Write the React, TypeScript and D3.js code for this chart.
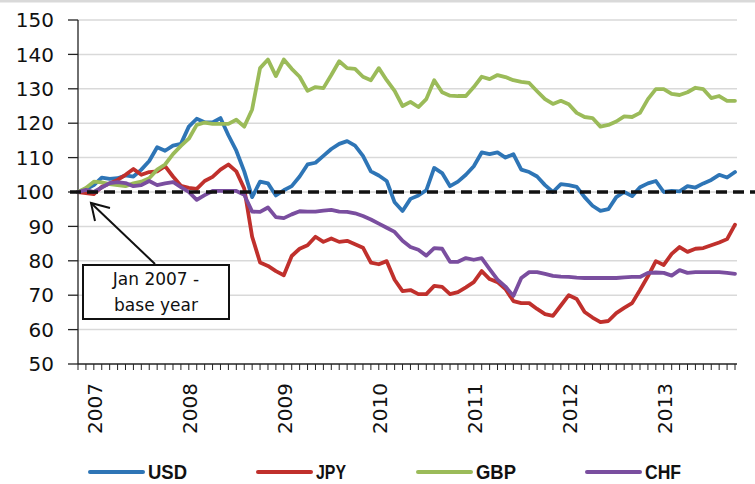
import React from "react";
import * as d3 from "d3";

const yearLabels = ["2007", "2008", "2009", "2010", "2011", "2012", "2013"];
const yTicks = [50, 60, 70, 80, 90, 100, 110, 120, 130, 140, 150];
const seriesNames = ["USD", "JPY", "GBP", "CHF"];
const seriesColors = ["#2E75B6", "#C0302C", "#9BBB59", "#7A4E9F"];

const usd = [100, 100.8, 102, 104.2, 103.8, 104, 104.8, 104.5, 106.5, 109, 113, 112, 113.5, 114, 119, 121.3, 120.3, 120.2, 121.5, 116.5, 112, 106, 98.5, 103, 102.5, 99, 100.5, 101.7, 104.5, 108, 108.5, 110.5, 112.5, 114, 114.8, 113.5, 110.5, 106, 104.8, 103.2, 97, 94.5, 98, 99, 100.5, 107, 105.5, 101.7, 103, 105, 107.5, 111.5, 111, 111.5, 110, 111, 106.5, 105.8, 104.5, 102, 100, 102.3, 102, 101.5, 98.5, 96, 94.5, 95, 98.5, 100, 98.8, 101.4, 102.5, 103.2, 100, 100.3, 100.2, 101.7, 101.3, 102.5, 103.5, 105, 104.2, 105.8];
const jpy = [100, 99.7, 99.4, 101.5, 102.5, 103.5, 105, 106.7, 105, 105.8, 106, 107.5, 104.5, 101.8, 101.2, 100.9, 103.2, 104.4, 106.5, 108, 106, 101, 87, 79.5, 78.5, 77, 75.8, 81.4, 83.5, 84.5, 87, 85.5, 86.5, 85.5, 85.8, 84.8, 83.8, 79.5, 79, 79.9, 74.5, 71.2, 71.5, 70.3, 70.3, 72.7, 72.4, 70.3, 70.9, 72.3, 73.8, 77, 74.7, 73.8, 71.8, 68.3, 67.7, 67.7, 66, 64.5, 64, 67, 70, 68.9, 65.1, 63.5, 62.2, 62.5, 64.8, 66.3, 67.7, 71.5, 75.5, 79.9, 78.8, 82, 84, 82.6, 83.5, 83.7, 84.5, 85.3, 86.3, 90.5];
const gbp = [100, 101.2, 103, 102.8, 102.3, 102, 101.7, 102.5, 103, 104, 106.5, 108, 111, 113.4, 115.5, 119.5, 120.2, 119.8, 119.8, 119.8, 121, 119, 124, 136, 138.5, 133.7, 138.5, 135.8, 133.5, 129.4, 130.5, 130.2, 134, 138, 136, 135.8, 133.5, 132.5, 136, 132.5, 129.4, 125, 126.2, 124.7, 127, 132.5, 129, 128, 127.9, 127.9, 130.5, 133.5, 132.8, 134, 133.4, 132.5, 132, 131.7, 129.3, 127, 125.6, 126.5, 125.5, 123, 121.8, 121.5, 119, 119.5, 120.5, 122, 121.8, 123, 127, 129.9, 129.9, 128.5, 128.2, 129, 130.3, 129.9, 127.3, 127.9, 126.5, 126.5];
const chf = [100, 100.6, 100, 101.3, 102.6, 102.9, 102.6, 101.7, 102, 103.2, 102, 102.5, 102.9, 101.4, 100, 97.7, 99.1, 100.3, 100.3, 100.3, 100.3, 99.2, 94.3, 94.2, 95.5, 92.7, 92.4, 93.5, 94.4, 94.3, 94.3, 94.6, 94.8, 94.3, 94.2, 93.8, 93, 92, 90.8, 89.6, 88.4, 85.8, 84, 83.2, 81.5, 83.7, 83.5, 79.7, 79.7, 80.8, 80.3, 80.8, 77.6, 74.5, 72.5, 69.8, 75, 76.7, 76.7, 76.2, 75.6, 75.4, 75.3, 75.1, 75, 75, 75, 75, 75, 75.2, 75.3, 75.3, 76.5, 76.6, 76.5, 75.7, 77.3, 76.5, 76.7, 76.7, 76.7, 76.7, 76.5, 76.2];
const baseValue = 100;
const annotationLines = ["Jan 2007 -", "base year"];

const allSeries = [usd, jpy, gbp, chf];

export default function App() {
  const W = 755;
  const H = 484;
  const n = usd.length;
  const x = d3.scaleLinear().domain([0, n - 1]).range([78, 735]);
  const y = d3.scaleLinear().domain([50, 150]).range([364, 20]);
  const line = d3
    .line<number>()
    .x((_, i) => x(i))
    .y((d) => y(d))
    .curve(d3.curveLinear);

  const legendX = [90, 258, 418, 587];
  const legendTextW = [39, 30, 40, 36];
  const tickFont = "DejaVu Sans, Verdana, sans-serif";

  return (
    <svg
      width={W}
      height={H}
      style={{ position: "absolute", left: 0, top: 0, background: "#fff" }}
    >
      <rect x={0} y={0} width={W} height={H} fill="#fff" />
      <line x1={0} x2={W} y1={1} y2={1} stroke="#d9d9d9" strokeWidth={3} />
      {/* gridlines */}
      {yTicks
        .filter((t) => t > 50)
        .map((t) => (
          <line key={"g" + t} x1={78} x2={737} y1={y(t)} y2={y(t)} stroke="#d9d9d9" strokeWidth={1.5} />
        ))}
      {/* y axis */}
      <line x1={78} x2={78} y1={y(150)} y2={y(50)} stroke="#222" strokeWidth={1.3} />
      {yTicks.map((t) => (
        <g key={"yt" + t}>
          <line x1={68} x2={78} y1={y(t)} y2={y(t)} stroke="#222" strokeWidth={1.3} />
          <text
            x={54}
            y={y(t)}
            dy="0.36em"
            textAnchor="end"
            fontFamily={tickFont}
            fontSize={20}
            fill="#111"
          >
            {t}
          </text>
        </g>
      ))}
      {/* x axis */}
      <line x1={78} x2={737} y1={y(50)} y2={y(50)} stroke="#222" strokeWidth={1.3} />
      {d3.range(n).map((i) => (
        <line key={"xt" + i} x1={x(i)} x2={x(i)} y1={y(50)} y2={y(50) + 6} stroke="#222" strokeWidth={1} />
      ))}
      {yearLabels.map((lab, k) => {
        const cx = x(k * 12) + 17;
        const cy = 383;
        return (
          <text
            key={lab}
            transform={`translate(${cx},${cy}) rotate(-90)`}
            textAnchor="end"
            dy="0.36em"
            fontFamily={tickFont}
            fontSize={20}
            fill="#111"
          >
            {lab}
          </text>
        );
      })}
      {/* series */}
      {allSeries.map((s, k) => (
        <path
          key={seriesNames[k]}
          d={line(s) || ""}
          fill="none"
          stroke={seriesColors[k]}
          strokeWidth={3.8}
          strokeLinejoin="round"
          strokeLinecap="round"
        />
      ))}
      {/* base line */}
      <line
        x1={70}
        x2={755}
        y1={y(baseValue)}
        y2={y(baseValue)}
        stroke="#111"
        strokeWidth={3.5}
        strokeDasharray="11,6"
      />
      {/* annotation */}
      <rect x={83} y={265} width={146} height={54} fill="#fff" stroke="#111" strokeWidth={2} />
      {annotationLines.map((t, i) => (
        <text
          key={t}
          x={156}
          y={285 + i * 26}
          textAnchor="middle"
          fontFamily={tickFont}
          fontSize={17}
          fill="#111"
        >
          {t}
        </text>
      ))}
      <line x1={155} y1={264} x2={x(0) + 13} y2={y(baseValue) + 11} stroke="#111" strokeWidth={2} />
      <polyline
        points={`${x(0) + 17},${y(baseValue) + 29} ${x(0) + 13},${y(baseValue) + 11} ${x(0) + 32},${y(baseValue) + 16}`}
        fill="none"
        stroke="#111"
        strokeWidth={2}
      />
      {/* legend */}
      {seriesNames.map((nm, k) => (
        <g key={"lg" + nm}>
          <line
            x1={legendX[k]}
            x2={legendX[k] + 53}
            y1={472}
            y2={472}
            stroke={seriesColors[k]}
            strokeWidth={4}
            strokeLinecap="round"
          />
          <text
            x={legendX[k] + 58}
            y={479}
            fontFamily="Liberation Sans, Arial, sans-serif"
            fontWeight="bold"
            fontSize={20}
            textLength={legendTextW[k]}
            lengthAdjust="spacingAndGlyphs"
            fill="#111"
          >
            {nm}
          </text>
        </g>
      ))}
    </svg>
  );
}
